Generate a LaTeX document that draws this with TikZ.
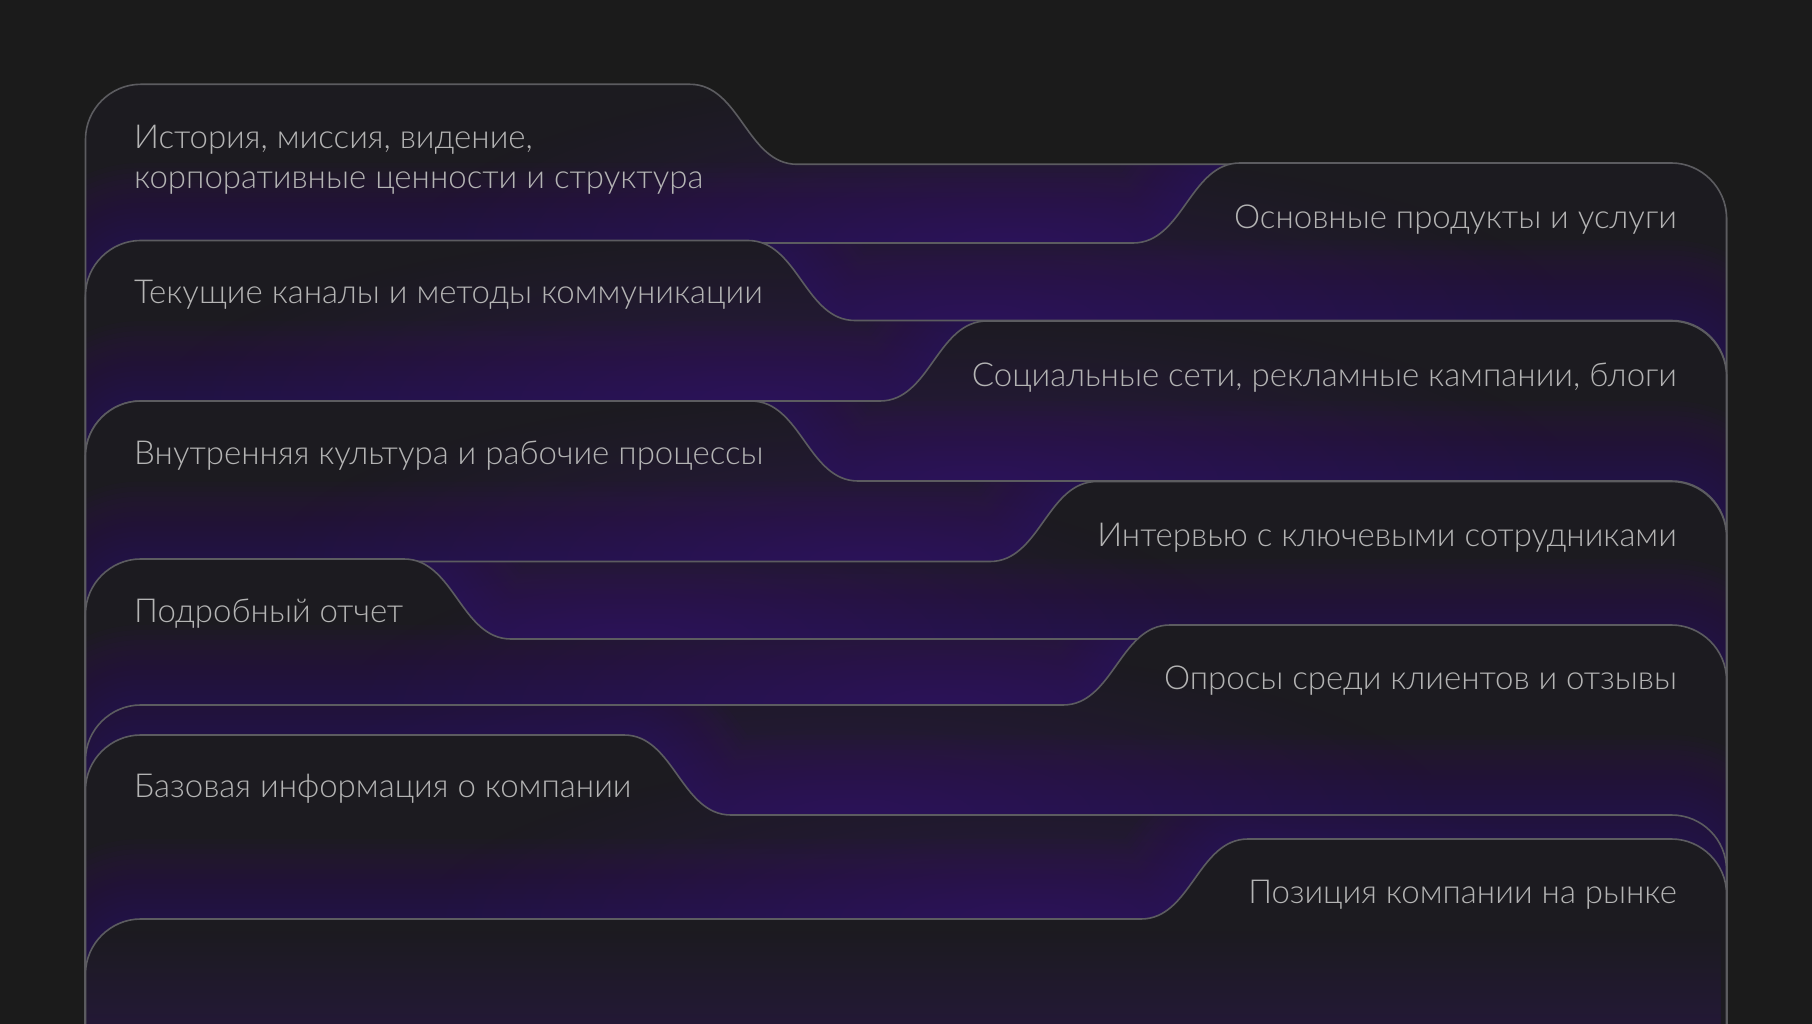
\documentclass[tikz,border=0pt]{standalone}
\usepackage{fontspec}
\setmainfont{Lato}[UprightFont=* Light]
\usetikzlibrary{fadings}
\definecolor{pagebg}{HTML}{1B1B1B}
\definecolor{cardbg}{HTML}{1C1B20}
\definecolor{edgec}{HTML}{5C5C60}
\definecolor{glowc}{HTML}{3A1278}
\definecolor{textc}{HTML}{B4B4B4}
\tikzfading[name=spot, inner color=transparent!0, outer color=transparent!100]
\newcommand{\lcard}[2]{(85.5,1040) -- (85.5,#1+55) .. controls (85.5,#1+24.6) and (110.9,#1) .. (140.5,#1) -- (#2,#1) .. controls (#2+50,#1) and (#2+57,#1+80) .. (#2+107,#1+80) -- (1671.5,#1+80) .. controls (1701.9,#1+80) and (1726.5,#1+104.6) .. (1726.5,#1+135) -- (1726.5,1040) -- cycle}
\newcommand{\rcard}[2]{(1726.5,1040) -- (1726.5,#1+55) .. controls (1726.5,#1+24.6) and (1701.1,#1) .. (1671.5,#1) -- (#2,#1) .. controls (#2-50,#1) and (#2-57,#1+80) .. (#2-107,#1+80) -- (140.5,#1+80) .. controls (110.9,#1+80) and (85.5,#1+104.6) .. (85.5,#1+135) -- (85.5,1040) -- cycle}
\newcommand{\glowspot}[2]{\fill[glowc, path fading=spot, fill opacity=.4] (#1,#2) ellipse (600 and 170);}
\begin{document}
\begin{tikzpicture}[x=1pt, y=-1pt,
  edge/.style={draw=edgec, line width=1.6pt},
  glow/.style={draw=glowc, draw opacity=.04, line join=round},
  lbl/.style={inner sep=0, text=textc, font=\fontsize{33}{40}\selectfont}]
\useasboundingbox (0,0) rectangle (1812,1024);
\fill[pagebg] (0,0) rectangle (1812,1024);
\clip (0,0) rectangle (1812,1024);
\fill[cardbg] \lcard{84.3}{690};
\begin{scope}\clip \lcard{84.3}{690};
\foreach \w in {10,20,...,160} \draw[glow, line width=\w pt] \rcard{163}{1240};
\glowspot{1013}{243}
\end{scope}
\draw[edge] \lcard{84.3}{690};
\node[lbl, anchor=base west] (t1a) at (134,148.3) {История, миссия, видение,};
\node[lbl, anchor=base west] (t1b) at (134,188.3) {корпоративные ценности и структура};
\fill[cardbg] \rcard{163}{1240};
\begin{scope}\clip \rcard{163}{1240};
\foreach \w in {10,20,...,160} \draw[glow, line width=\w pt] \lcard{240.5}{748};
\glowspot{975}{320.5}
\end{scope}
\draw[edge] \rcard{163}{1240};
\node[lbl, anchor=base east] (t2) at (1677,229) {Основные продукты и услуги};
\fill[cardbg] \lcard{240.5}{748};
\begin{scope}\clip \lcard{240.5}{748};
\foreach \w in {10,20,...,160} \draw[glow, line width=\w pt] \rcard{321}{987};
\glowspot{760}{401}
\end{scope}
\draw[edge] \lcard{240.5}{748};
\node[lbl, anchor=base west] (t3) at (134,304) {Текущие каналы и методы коммуникации};
\fill[cardbg] \rcard{321}{987};
\begin{scope}\clip \rcard{321}{987};
\foreach \w in {10,20,...,160} \draw[glow, line width=\w pt] \lcard{401}{751};
\glowspot{978}{481}
\end{scope}
\draw[edge] \rcard{321}{987};
\node[lbl, anchor=base east] (t4) at (1677,386.7) {Социальные сети, рекламные кампании, блоги};
\fill[cardbg] \lcard{401}{751};
\begin{scope}\clip \lcard{401}{751};
\foreach \w in {10,20,...,160} \draw[glow, line width=\w pt] \rcard{481.5}{1097};
\glowspot{870}{561.5}
\end{scope}
\draw[edge] \lcard{401}{751};
\node[lbl, anchor=base west] (t5) at (134,464) {Внутренняя культура и рабочие процессы};
\fill[cardbg] \rcard{481.5}{1097};
\begin{scope}\clip \rcard{481.5}{1097};
\foreach \w in {10,20,...,160} \draw[glow, line width=\w pt] \lcard{559}{404};
\glowspot{631}{639}
\end{scope}
\draw[edge] \rcard{481.5}{1097};
\node[lbl, anchor=base east] (t6) at (1677,546.3) {Интервью с ключевыми сотрудниками};
\fill[cardbg] \lcard{559}{404};
\begin{scope}\clip \lcard{559}{404};
\foreach \w in {10,20,...,160} \draw[glow, line width=\w pt] \rcard{625}{1170};
\glowspot{943}{705}
\end{scope}
\draw[edge] \lcard{559}{404};
\node[lbl, anchor=base west] (t7) at (134,622) {Подробный отчет};
\fill[cardbg] \rcard{625}{1170};
\begin{scope}\clip \rcard{625}{1170};
\foreach \w in {10,20,...,160} \draw[glow, line width=\w pt] \lcard{735}{624};
\glowspot{851}{815}
\end{scope}
\draw[edge] \rcard{625}{1170};
\node[lbl, anchor=base east] (t8) at (1677,689.7) {Опросы среди клиентов и отзывы};
\fill[cardbg] \lcard{735}{624};
\begin{scope}\clip \lcard{735}{624};
\foreach \w in {10,20,...,160} \draw[glow, line width=\w pt] \rcard{839}{1248};
\glowspot{1021}{919}
\end{scope}
\draw[edge] \lcard{735}{624};
\node[lbl, anchor=base west] (t9) at (134,797.7) {Базовая информация о компании};
\fill[cardbg] \rcard{839}{1248};
\begin{scope}\clip \rcard{839}{1248};
\fill[glowc, path fading=north, fill opacity=.45] (85.5,930) rectangle (1726.5,1100);
\end{scope}
\draw[edge] \rcard{839}{1248};
\node[lbl, anchor=base east] (t10) at (1677,903.7) {Позиция компании на рынке};
\end{tikzpicture}
\end{document}
